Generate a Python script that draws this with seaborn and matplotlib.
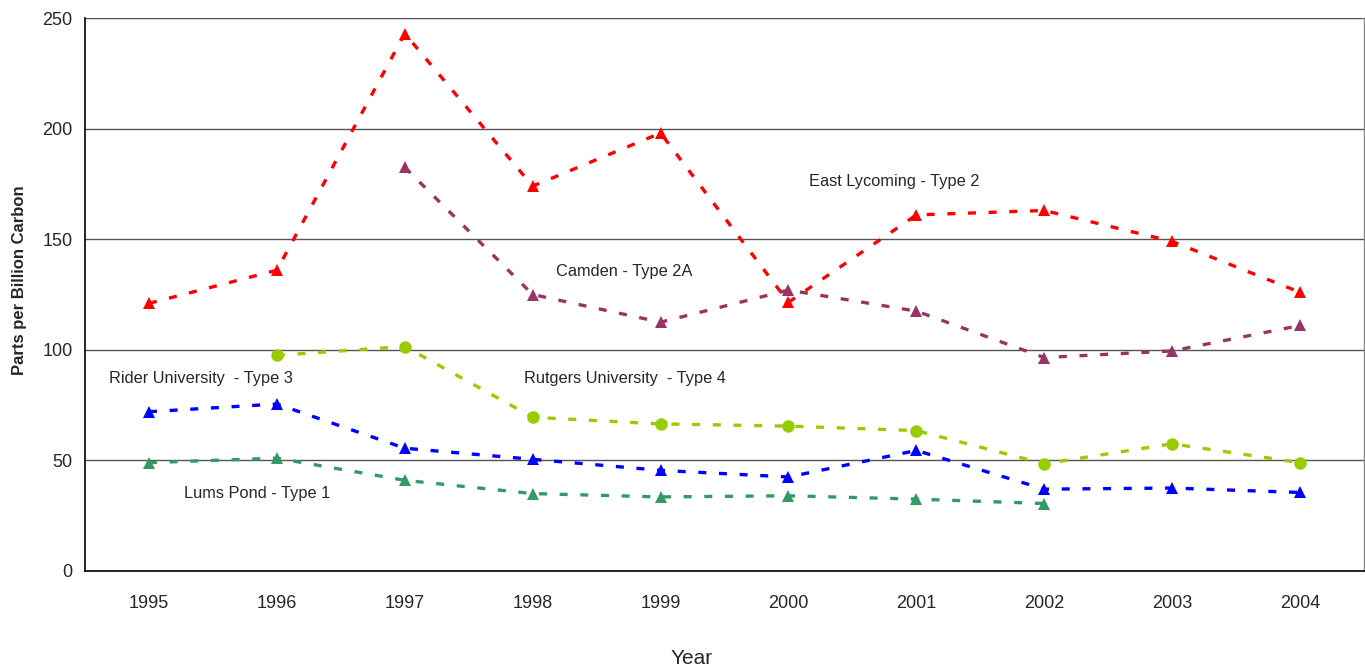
import numpy as np
import pandas as pd
import seaborn as sns
import matplotlib.pyplot as plt
from matplotlib.ticker import MultipleLocator, FixedLocator

sns.set_style("white")
plt.rcParams['font.family'] = ['Liberation Sans', 'DejaVu Sans']

# Data
years = [1995, 1996, 1997, 1998, 1999, 2000, 2001, 2002, 2003, 2004]
east_lycoming = [121, 136, 243, 174, 198, 121.5, 161, 163, 149, 126]
camden = [np.nan, np.nan, 182.5, 125, 112.5, 127, 117.5, 96.5, 99.5, 111]
rutgers = [np.nan, 97.5, 101.5, 69.5, 66.5, 65.5, 63.5, 48.5, 57.5, 49]
rider = [72, 75.5, 55.5, 50.5, 45.5, 42.5, 54.5, 37, 37.5, 35.5]
lums_pond = [49, 51, 41, 35, 33.5, 34, 32.5, 30.5, np.nan, np.nan]

series_names = ["East Lycoming", "Camden", "Rutgers", "Rider", "Lums Pond"]
series_values = [east_lycoming, camden, rutgers, rider, lums_pond]
colors = ["#FF0000", "#993366", "#99CC00", "#0000FF", "#339966"]
marker_shapes = ["^", "^", "o", "^", "^"]

# long-form table for seaborn
df = pd.concat(
    [pd.DataFrame({"Year": years, "Value": vals, "Site": name})
     for name, vals in zip(series_names, series_values)]
).dropna()

fig = plt.figure(figsize=(13.65, 6.69), dpi=100)
ax = fig.add_axes([0.0623, 0.1465, 0.937, 0.8265])

ax = sns.lineplot(
    data=df, x="Year", y="Value",
    hue="Site", style="Site",
    hue_order=series_names, style_order=series_names,
    palette=dict(zip(series_names, colors)),
    markers=dict(zip(series_names, marker_shapes)),
    dashes={n: (2.4, 3.8) for n in series_names},
    estimator=None, linewidth=2.4, markersize=9,
    markeredgewidth=0, legend=False, ax=ax,
)

# axis limits / ticks
ax.set_xlim(1994.5, 2004.5)
ax.set_ylim(0, 250)
ax.yaxis.set_major_locator(MultipleLocator(50))
ax.set_xticks(years)
ax.xaxis.set_minor_locator(FixedLocator(np.arange(1994.5, 2005, 1)))
ax.tick_params(axis="x", which="major", length=0, pad=17, labelsize=13)
ax.tick_params(axis="x", which="minor", length=6, width=1, color="black", direction="out")
ax.tick_params(axis="y", length=5, width=1, color="black", direction="out", pad=4, labelsize=13)
ax.grid(axis="y", color="#555555", linewidth=1)
ax.set_axisbelow(True)

for side in ["left", "bottom"]:
    ax.spines[side].set_color("black")
    ax.spines[side].set_linewidth(1.2)
ax.spines["top"].set_visible(False)
ax.spines["right"].set_color("#888888")
ax.spines["right"].set_linewidth(1)

ax.set_xlabel("Year", fontsize=15)
ax.xaxis.set_label_coords(0.474, -0.141)
ax.set_ylabel("Parts per Billion Carbon", fontsize=12, fontweight="bold")
ax.yaxis.set_label_coords(-0.045, 0.526)

# series labels
label_kw = dict(fontsize=11.8, va="center", ha="left")
ax.text(2000.16, 176, "East Lycoming - Type 2", **label_kw)
ax.text(1998.18, 135.5, "Camden - Type 2A", **label_kw)
ax.text(1994.69, 87, "Rider University  - Type 3", **label_kw)
ax.text(1997.93, 87, "Rutgers University  - Type 4", **label_kw)
ax.text(1995.27, 35, "Lums Pond - Type 1", **label_kw)

plt.savefig("out.png", dpi=100)
